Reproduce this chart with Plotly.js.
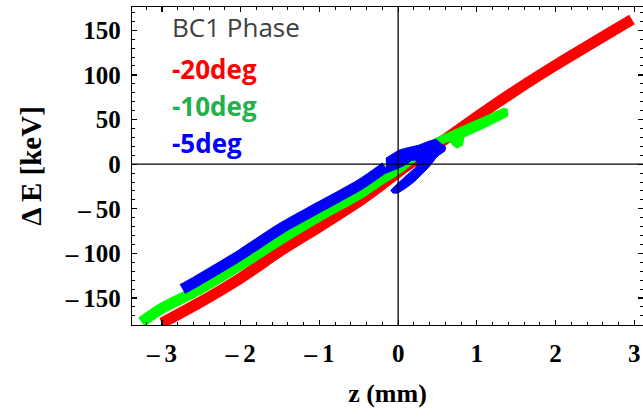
<!DOCTYPE html>
<html>
<head>
<meta charset="utf-8">
<script src="https://cdn.plot.ly/plotly-3.0.1.min.js"></script>
<style>html,body{margin:0;padding:0;background:#fff;}#chart{width:643px;height:417px;}</style>
</head>
<body>
<div id="chart"></div>
<script>
// ---- data (z in mm, dE in keV) ----
var red_z   = [-3.00, -2.54, -1.99, -1.49, -0.98, -0.47, -0.22, 0.00, 0.50, 1.00, 1.50, 2.00, 2.51, 2.97];
var red_dE  = [-178, -156, -127, -97, -69, -40, -24, -9, 22, 53, 83, 111, 138, 162];

var green_z  = [-3.26, -3.01, -2.54, -1.99, -1.49, -0.98, -0.47, -0.22, 0.00, 0.29];
var green_dE = [-177, -162, -141, -112, -84, -57, -32, -17, -5, 16];

var green_hook_z  = [0.288, 0.478, 0.795, 1.112, 1.34, 1.39, 1.39, 1.112, 0.833, 0.82, 0.744, 0.681, 0.655, 0.579, 0.352];
var green_hook_dE = [17.9, 29.1, 41.4, 53.7, 62.6, 61.5, 53.7, 41.4, 30.2, 21.3, 17.9, 22.4, 25.7, 23.5, 8.9];

var blue_z  = [-2.74, -2.54, -1.99, -1.49, -0.98, -0.47, -0.16];
var blue_dE = [-140, -130, -101, -72, -47, -22, -3];

var blue_blob_z  = [-0.156, 0.009, 0.098, 0.262, 0.389, 0.478, 0.541, 0.605, 0.592, 0.516, 0.478, 0.389, 0.313, 0.199, 0.098, -0.004, -0.067, -0.093, -0.029, 0.072, 0.161, 0.225, 0.25, 0.225, 0.174, 0.123, 0.034, -0.156];
var blue_blob_dE = [6.7, 15.7, 17.9, 21.3, 25.7, 28.0, 23.5, 19.0, 14.5, 10.1, 6.7, -3.4, -10.1, -20.1, -26.8, -32.4, -32.4, -29.1, -23.5, -15.7, -8.9, -3.4, 1.1, 4.5, 4.5, 1.1, -3.4, -10.1];

var legend_title = "BC1 Phase";
var series_labels = ["-20deg", "-10deg", "-5deg"];
var x_tick_vals = [-3, -2, -1, 0, 1, 2, 3];
var x_tick_text = ["\u2013\u20093", "\u2013\u20092", "\u2013\u20091", "0", "1", "2", "3"];
var y_tick_vals = [-150, -100, -50, 0, 50, 100, 150];
var y_tick_text = ["\u2013\u2009150", "\u2013\u2009100", "\u2013\u200950", "0", "50", "100", "150"];

var RED = "#ff0000", GREEN = "#00ff00", BLUE = "#0000ff";
var BAND = 11;

var traces = [
  {x: red_z, y: red_dE, mode: "lines", line: {color: RED, width: BAND, shape: "spline", smoothing: 0.8}, hoverinfo: "skip"},
  {x: green_z, y: green_dE, mode: "lines", line: {color: GREEN, width: BAND, shape: "spline", smoothing: 0.8}, hoverinfo: "skip"},
  {x: green_hook_z, y: green_hook_dE, mode: "lines", fill: "toself", fillcolor: GREEN, line: {color: GREEN, width: 1}, hoverinfo: "skip"},
  {x: blue_z, y: blue_dE, mode: "lines", line: {color: BLUE, width: BAND, shape: "spline", smoothing: 0.8}, hoverinfo: "skip"},
  {x: blue_blob_z, y: blue_blob_dE, mode: "lines", fill: "toself", fillcolor: BLUE, line: {color: BLUE, width: 1}, hoverinfo: "skip"}
];

var serif = "Liberation Serif, Times New Roman, serif";
var tickFont = {family: serif, size: 25, color: "#000", weight: "bold"};
var axisCommon = {
  showgrid: false, zeroline: false,
  showline: true, linecolor: "#000", linewidth: 1.2, mirror: "ticks",
  ticks: "inside", ticklen: 5, tickwidth: 1.2, tickcolor: "#000",
  tickfont: tickFont
};

var layout = {
  width: 643, height: 417,
  margin: {l: 132, r: 0, t: 7, b: 92},
  paper_bgcolor: "#fff", plot_bgcolor: "#fff",
  showlegend: false,
  xaxis: Object.assign({}, axisCommon, {
    range: [-3.38, 3.11],
    tickmode: "array", tickvals: x_tick_vals, ticktext: x_tick_text,
    minor: {ticks: "inside", ticklen: 3, tickwidth: 1, tickcolor: "#000", dtick: 0.2, tick0: 0},
    ticklabelstandoff: 6,
    title: {text: "z (mm)", font: {family: serif, size: 26, color: "#000", weight: "bold"}, standoff: 17}
  }),
  yaxis: Object.assign({}, axisCommon, {
    range: [-180.2, 176.1],
    tickmode: "array", tickvals: y_tick_vals, ticktext: y_tick_text,
    minor: {ticks: "inside", ticklen: 3, tickwidth: 1, tickcolor: "#000", dtick: 10, tick0: 0},
    ticklabelstandoff: 5,
    title: {text: "Δ E [keV]", font: {family: serif, size: 29, color: "#000", weight: "bold"}, standoff: 14}
  }),
  shapes: [
    {type: "line", xref: "x", yref: "paper", x0: 0, x1: 0, y0: 0, y1: 1, line: {color: "#000", width: 1.3}, layer: "above"},
    {type: "line", xref: "paper", yref: "y", x0: 0, x1: 1, y0: 0, y1: 0, line: {color: "#000", width: 1.3}, layer: "above"}
  ],
  annotations: [
    {xref: "paper", yref: "paper", x: 0.074, y: 0.936, xanchor: "left", yanchor: "middle", showarrow: false,
     text: legend_title, font: {family: "Open Sans, sans-serif", size: 26, color: "#404040"}},
    {xref: "paper", yref: "paper", x: 0.074, y: 0.804, xanchor: "left", yanchor: "middle", showarrow: false,
     text: series_labels[0], font: {family: "Open Sans, sans-serif", size: 26, color: "#ff0000", weight: "bold"}},
    {xref: "paper", yref: "paper", x: 0.074, y: 0.689, xanchor: "left", yanchor: "middle", showarrow: false,
     text: series_labels[1], font: {family: "Open Sans, sans-serif", size: 26, color: "#22b14c", weight: "bold"}},
    {xref: "paper", yref: "paper", x: 0.074, y: 0.571, xanchor: "left", yanchor: "middle", showarrow: false,
     text: series_labels[2], font: {family: "Open Sans, sans-serif", size: 26, color: "#0000ff", weight: "bold"}}
  ]
};

Plotly.newPlot("chart", traces, layout, {staticPlot: true, displayModeBar: false});
</script>
</body>
</html>
